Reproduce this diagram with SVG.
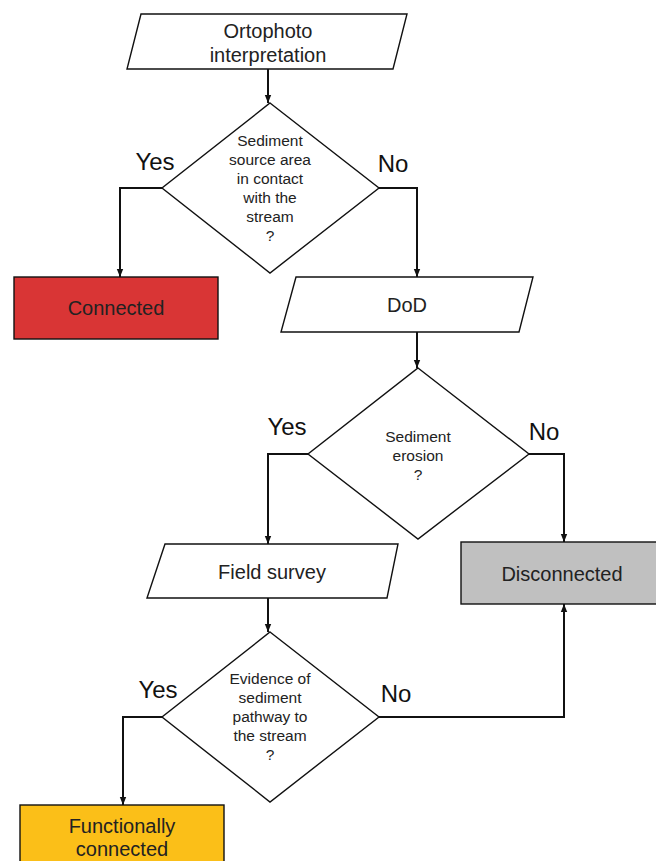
<svg xmlns="http://www.w3.org/2000/svg" width="656" height="861" viewBox="0 0 656 861">
<style>
.shape{stroke:#111;stroke-width:1.4;}
.w{fill:#fff;}
.t{font-family:"Liberation Sans",Arial,sans-serif;fill:#222;text-anchor:middle;}
.n18{font-size:20px;}
.n14{font-size:15.5px;}
.lbl{font-size:24px;font-family:"Liberation Sans",Arial,sans-serif;fill:#111;}
.c{fill:none;stroke:#111;stroke-width:2;marker-end:url(#ah);}
</style>
<defs>
<marker id="ah" viewBox="0 0 10 10" refX="10" refY="5" markerWidth="8" markerHeight="8" orient="auto" markerUnits="userSpaceOnUse">
<path d="M0,1 L10,5 L0,9 z" fill="#111"/>
</marker>
</defs>
<rect width="656" height="861" fill="#fff"/>
<g id="connectors">
<path class="c" d="M268,69 V103"/>
<path class="c" d="M162,188 H120 V277"/>
<path class="c" d="M379,188 H417 V277"/>
<path class="c" d="M417,332 V368"/>
<path class="c" d="M308,454 H268 V544"/>
<path class="c" d="M529,454 H564 V542"/>
<path class="c" d="M268,598 V632"/>
<path class="c" d="M162,717 H123 V805"/>
<path class="c" d="M379,717 H564 V604"/>
<text class="lbl" x="155" y="170" text-anchor="middle">Yes</text>
<text class="lbl" x="393" y="172" text-anchor="middle">No</text>
<text class="lbl" x="287" y="435" text-anchor="middle">Yes</text>
<text class="lbl" x="544" y="440" text-anchor="middle">No</text>
<text class="lbl" x="158" y="698" text-anchor="middle">Yes</text>
<text class="lbl" x="396" y="702" text-anchor="middle">No</text>
</g>
<g id="ortophoto">
<polygon class="shape w" points="141,14 407,14 393,69 127,69"/>
<text class="t n18" x="268" y="38">Ortophoto</text>
<text class="t n18" x="268" y="62">interpretation</text>
</g>
<g id="decision1">
<polygon class="shape w" points="270,103 379,188 270,273 162,188"/>
<text class="t n14" x="270" y="146">Sediment</text>
<text class="t n14" x="270" y="165">source area</text>
<text class="t n14" x="270" y="184">in contact</text>
<text class="t n14" x="270" y="203">with the</text>
<text class="t n14" x="270" y="222">stream</text>
<text class="t n14" x="270" y="241">?</text>
</g>
<g id="connected">
<rect class="shape" x="14" y="277" width="204" height="62" fill="#d93535"/>
<text class="t n18" x="116" y="315">Connected</text>
</g>
<g id="dod">
<polygon class="shape w" points="296,277 533,277 519,332 281,332"/>
<text class="t n18" x="407" y="312">DoD</text>
</g>
<g id="decision2">
<polygon class="shape w" points="418,368 529,454 418,539 308,454"/>
<text class="t n14" x="418" y="442">Sediment</text>
<text class="t n14" x="418" y="461">erosion</text>
<text class="t n14" x="418" y="480">?</text>
</g>
<g id="fieldsurvey">
<polygon class="shape w" points="165,544 398,544 387,598 147,598"/>
<text class="t n18" x="272" y="579">Field survey</text>
</g>
<g id="disconnected">
<rect class="shape" x="461" y="542" width="200" height="62" fill="#c0c0c0"/>
<text class="t n18" x="562" y="581">Disconnected</text>
</g>
<g id="decision3">
<polygon class="shape w" points="270,632 379,717 270,802 162,717"/>
<text class="t n14" x="270" y="684">Evidence of</text>
<text class="t n14" x="270" y="703">sediment</text>
<text class="t n14" x="270" y="722">pathway to</text>
<text class="t n14" x="270" y="741">the stream</text>
<text class="t n14" x="270" y="760">?</text>
</g>
<g id="functionally">
<rect class="shape" x="20" y="805" width="204" height="70" fill="#fbbf18"/>
<text class="t n18" x="122" y="833">Functionally</text>
<text class="t n18" x="122" y="856">connected</text>
</g>
</svg>
